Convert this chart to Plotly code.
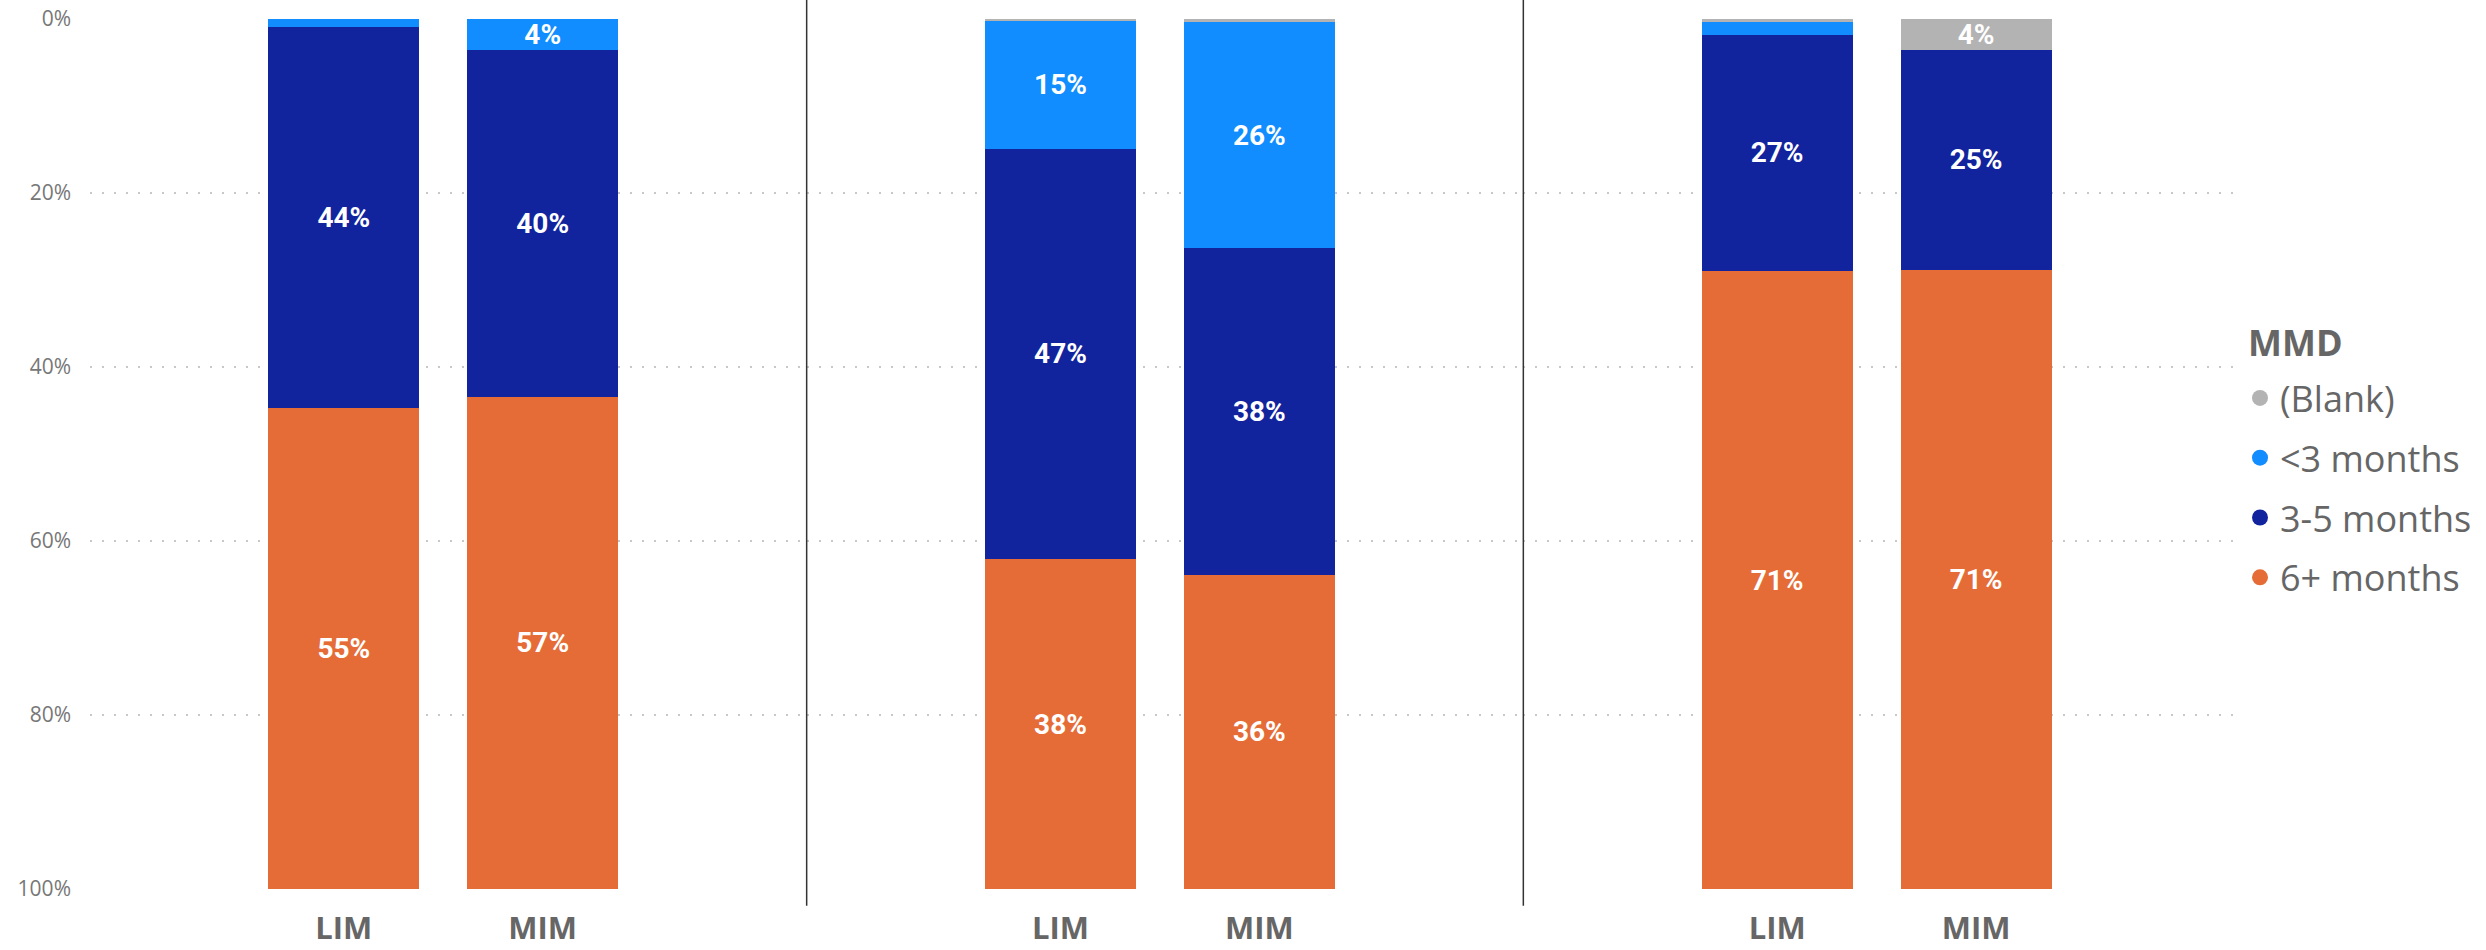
import plotly.graph_objects as go
from plotly.subplots import make_subplots

# ---- data (percent of group, top to bottom of each stacked bar) ----
groups = ["LIM", "MIM"]
n_panels = 3
legend_title = "MMD"
series_names = ["(Blank)", "<3 months", "3-5 months", "6+ months"]
series_colors = ["#B3B3B3", "#118DFF", "#12239E", "#E66C37"]

# values ordered: panel1 LIM, panel1 MIM, panel2 LIM, panel2 MIM, panel3 LIM, panel3 MIM
blank_pct = [0.0, 0.0, 0.2, 0.4, 0.4, 3.6]
lt3_pct = [0.9, 3.6, 14.7, 25.9, 1.4, 0.0]
m35_pct = [43.8, 39.8, 47.2, 37.6, 27.2, 25.2]
m6_pct = [55.3, 56.6, 37.9, 36.1, 71.0, 71.2]
series_values = [blank_pct, lt3_pct, m35_pct, m6_pct]

y_ticks = [0, 20, 40, 60, 80, 100]
y_tick_labels = ["0%", "20%", "40%", "60%", "80%", "100%"]
label_min = 3.0

W, H = 2486, 950
ML, MR, MT, MB = 90, 246, 19, 61
plot_h = H - MT - MB
plot_w = W - ML - MR

fig = make_subplots(rows=1, cols=3, shared_yaxes=True, horizontal_spacing=0)

for s, (name, color, vals) in enumerate(zip(series_names, series_colors, series_values)):
    for p in range(n_panels):
        v = vals[2 * p:2 * p + 2]
        txt = [f"{x:.0f}%" if x >= label_min else "" for x in v]
        fig.add_trace(
            go.Bar(
                x=groups, y=v, name=name, marker=dict(color=color, line=dict(width=0)),
                text=txt, textposition="inside", insidetextanchor="middle",
                textfont=dict(family="Roboto", size=28, color="white", weight="bold"),
                showlegend=False, hoverinfo="skip", cliponaxis=False,
            ),
            row=1, col=p + 1,
        )
    # legend entry as circle marker
    fig.add_trace(
        go.Scatter(
            x=[None], y=[None], mode="markers", name=name, legendgroup=name,
            marker=dict(symbol="circle", size=22, color=color), showlegend=True,
        ),
        row=1, col=1,
    )

grid_color = "#C8C8C8"
for p in range(n_panels):
    fig.update_xaxes(
        type="category", range=[-1.276, 2.327], showgrid=False, zeroline=False,
        showline=False, ticks="", ticklabelstandoff=18, automargin=False,
        tickfont=dict(family="Open Sans", size=31, color="#666666", weight="bold"),
        fixedrange=True, row=1, col=p + 1,
    )
    fig.update_yaxes(
        range=[100, 0], tickmode="array", tickvals=y_ticks, ticktext=y_tick_labels,
        showgrid=True, automargin=False,
        gridcolor=grid_color, gridwidth=2, griddash="2px,10px", zeroline=False,
        showline=False, ticks="", showticklabels=(p == 0), ticklabelstandoff=18,
        tickfont=dict(family="Open Sans", size=21, color="#777777"),
        row=1, col=p + 1,
    )

# panel separators
for xb in [1 / 3, 2 / 3]:
    fig.add_shape(
        type="line", xref="paper", yref="paper", x0=xb, x1=xb,
        y0=-0.0192, y1=1.03, line=dict(color="#333333", width=1.5),
    )

# legend title as text
fig.add_annotation(
    text=f"<b>{legend_title}</b>", xref="paper", yref="paper",
    x=(2246 - ML) / plot_w, y=(H - MB - 343) / plot_h, xanchor="left", yanchor="middle",
    showarrow=False, font=dict(family="Open Sans", size=36, color="#666666"),
)

fig.update_layout(
    width=W, height=H,
    margin=dict(l=ML, r=MR, t=MT, b=MB, pad=0, autoexpand=False),
    barmode="stack", bargap=0.241,
    paper_bgcolor="white", plot_bgcolor="white",
    uniformtext=dict(minsize=28, mode="show"),
    legend=dict(
        font=dict(family="Open Sans", size=36, color="#666666"),
        x=1.0, xanchor="left", y=(H - MB - 368) / plot_h, yanchor="top",
        tracegroupgap=10, traceorder="grouped", itemsizing="trace",
        bgcolor="rgba(0,0,0,0)",
    ),
    showlegend=True,
)

fig.write_html("out.html")
